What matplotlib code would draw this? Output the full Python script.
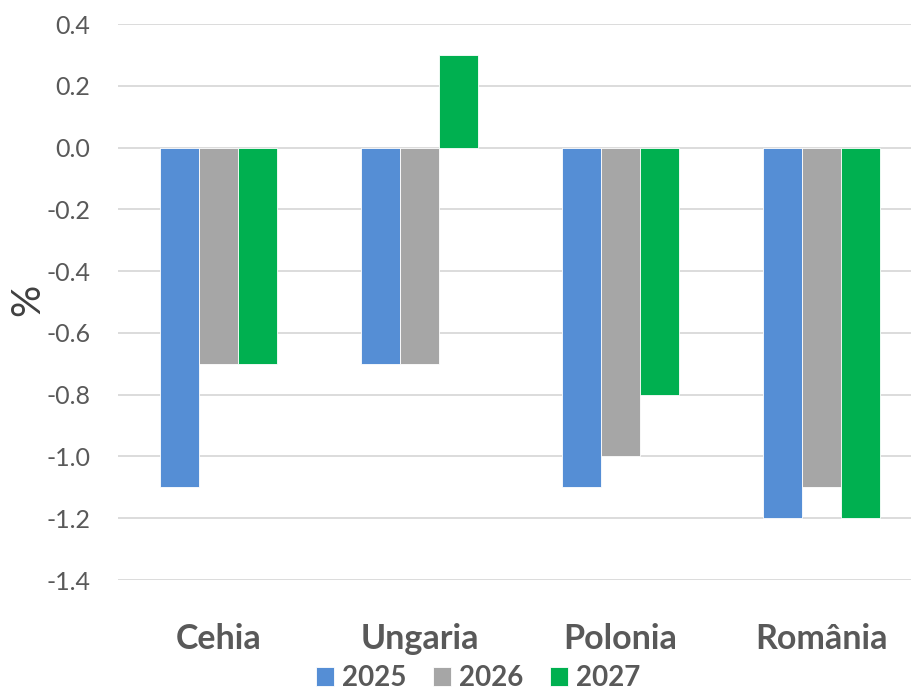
import numpy as np
import matplotlib.pyplot as plt

# 数据
categories = ['Cehia', 'Ungaria', 'Polonia', 'România']
years = ['2025', '2026', '2027']
val_2025 = [-1.1, -0.7, -1.1, -1.2]
val_2026 = [-0.7, -0.7, -1.0, -1.1]
val_2027 = [-0.7, 0.3, -0.8, -1.2]
colors = ['#558ED5', '#A6A6A6', '#00B050']

plt.rcParams['font.family'] = ['Lato', 'DejaVu Sans']

W, H = 912, 690
fig = plt.figure(figsize=(W / 100, H / 100), dpi=100)
# 绘图区：左 118px，顶 24px，底 580px，每类 201px
ax = fig.add_axes([118 / W, (H - 580) / H, 804 / W, 556 / H])

x = np.arange(len(categories))
bw = 0.194
series = [val_2025, val_2026, val_2027]
for i, vals in enumerate(series):
    ax.bar(x + (i - 1) * bw, vals, width=bw, color=colors[i],
           edgecolor='white', linewidth=0.6, label=years[i], zorder=3)

ax.set_xlim(-0.5, len(categories) - 0.5)
ax.set_ylim(-1.4, 0.4)
ticks = np.round(np.arange(-1.4, 0.41, 0.2), 1)
ax.set_yticks(ticks)
ax.set_yticklabels(['%.1f' % (t + 0.0) if abs(t) > 1e-9 else '0.0' for t in ticks])
ax.yaxis.grid(True, color='#D9D9D9', linewidth=1.3, zorder=0)
ax.set_axisbelow(True)
for s in ax.spines.values():
    s.set_visible(False)

ax.set_xticks(x)
ax.set_xticklabels(categories, fontsize=24.5, fontweight='bold', color='#595959')
ax.tick_params(axis='x', length=0, pad=31)
ax.tick_params(axis='y', length=0, pad=20, labelsize=18, labelcolor='#595959')

fig.text(28 / W, 1 - 300 / H, '%', rotation=90, fontsize=29, color='#404040',
         ha='center', va='center')

leg = fig.legend(loc='center', bbox_to_anchor=(478 / W, 1 - 678 / H), ncol=3,
                 frameon=False, prop={'size': 20, 'weight': 'bold'},
                 handlelength=0.65, handleheight=0.65, handletextpad=0.3,
                 columnspacing=0.95)
for t in leg.get_texts():
    t.set_color('#595959')

plt.savefig('out.png', dpi=100)
